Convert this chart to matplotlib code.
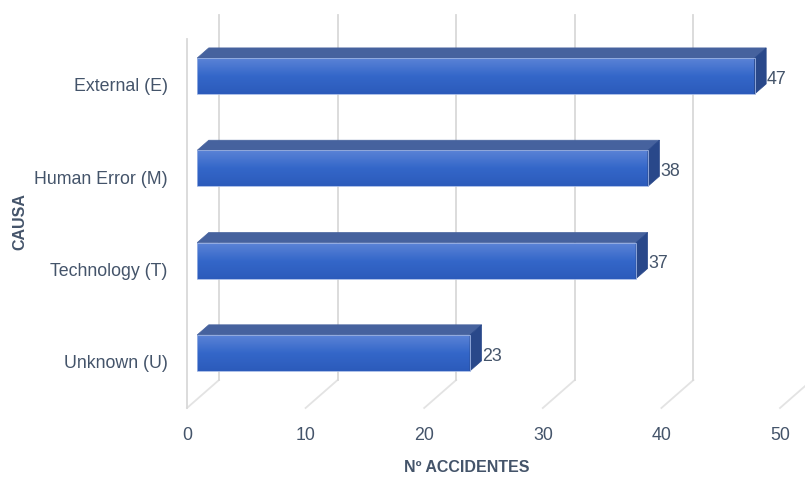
import numpy as np
import matplotlib.pyplot as plt
from matplotlib.colors import LinearSegmentedColormap
from matplotlib.patches import Polygon

# Accidentes por causa
causas = ['Unknown (U)', 'Technology (T)', 'Human Error (M)', 'External (E)']
accidentes = [23, 37, 38, 47]
ticks_x = [0, 10, 20, 30, 40, 50]

plt.rcParams['font.family'] = ['Liberation Sans', 'DejaVu Sans']
color_texto = '#44546A'
color_rejilla = '#D9D9D9'

# Efecto 3D: desplazamiento por unidad de profundidad (en unidades de datos)
DX = 32 / 11.86
DY = 28 / 92.3
D0, D1 = 0.32, 0.68   # profundidad de la cara frontal y trasera de las barras
H = 0.195             # media altura de la barra


def pt(v, c, d):
    return (v + d * DX, c + d * DY)


fig = plt.figure(figsize=(8.05, 4.79), dpi=100)
ax = fig.add_axes([187 / 805, 1 - 408 / 479, 593 / 805, 369.2 / 479])

# Rejilla: pared del fondo y suelo
for v in ticks_x:
    x0, y0 = pt(v, -0.5, 0)
    x1, y1 = pt(v, -0.5, 1)
    x2, y2 = pt(v, 3.45, 1)
    ax.plot([x0, x1], [y0, y1], color='#E3E3E3', lw=1.3,
            zorder=1, clip_on=False)
    ax.plot([x1, x2], [y1, y2], color=color_rejilla, lw=1.3,
            zorder=1, clip_on=False)
# Arista frontal de la pared izquierda
xa, ya = pt(0, -0.5, 0)
xb, yb = pt(0, 3.5, 0)
ax.plot([xa, xb], [ya, yb], color=color_rejilla, lw=1.3, zorder=1, clip_on=False)

cmap_frente = LinearSegmentedColormap.from_list(
    'frente', ['#2C5BBB', '#3467C9', '#5B83D6'])
grad = np.linspace(0, 1, 64).reshape(-1, 1)

for c, val in enumerate(accidentes):
    # cara frontal con degradado vertical
    fx0, fy0 = pt(0, c - H, D0)
    fx1, fy1 = pt(val, c + H, D0)
    ax.imshow(grad, cmap=cmap_frente, extent=(fx0, fx1, fy0, fy1),
              origin='lower', aspect='auto', zorder=3, interpolation='bilinear')
    ax.add_patch(Polygon([(fx0, fy0), (fx1, fy0), (fx1, fy1), (fx0, fy1)],
                         closed=True, fill=False, ec='#9DB4E4', lw=0.6, zorder=4))
    # cara superior
    sup = [pt(0, c + H, D0), pt(val, c + H, D0), pt(val, c + H, D1), pt(0, c + H, D1)]
    ax.add_patch(Polygon(sup, closed=True, fc='#46629E', ec='#46629E', lw=0.5, zorder=3))
    # cara lateral
    lat = [pt(val, c - H, D0), pt(val, c + H, D0), pt(val, c + H, D1), pt(val, c - H, D1)]
    ax.add_patch(Polygon(lat, closed=True, fc='#29488A', ec='#29488A', lw=0.5, zorder=3))
    # etiqueta de valor
    lx, ly = pt(val, c, D1)
    ax.text(lx + 0.05, c + D0 * DY - 0.035, str(val), ha='left', va='center',
            fontsize=12.8, color=color_texto, zorder=5)

ax.set_xlim(0, 50)
ax.set_ylim(-0.5, 3.5)
ax.set_xticks(ticks_x)
ax.set_yticks(range(len(causas)))
ax.set_yticklabels(causas)
ax.tick_params(axis='both', length=0, labelsize=12.8, labelcolor=color_texto)
ax.tick_params(axis='x', pad=14)
ax.tick_params(axis='y', pad=14)
for s in ax.spines.values():
    s.set_visible(False)
ax.set_facecolor('none')

ax.set_xlabel('Nº ACCIDENTES', fontsize=11.5, fontweight='bold', color=color_texto)
ax.set_ylabel('CAUSA', fontsize=11.5, fontweight='bold', color=color_texto)
ax.xaxis.set_label_coords((467 - 187) / 593, -(467 - 408) / 369.2)
ax.xaxis.label.set_va('center')
ax.yaxis.set_label_coords((20 - 187) / 593, (408 - 222) / 369.2)
ax.yaxis.label.set_va('center')

fig.savefig('out.png', dpi=100)
